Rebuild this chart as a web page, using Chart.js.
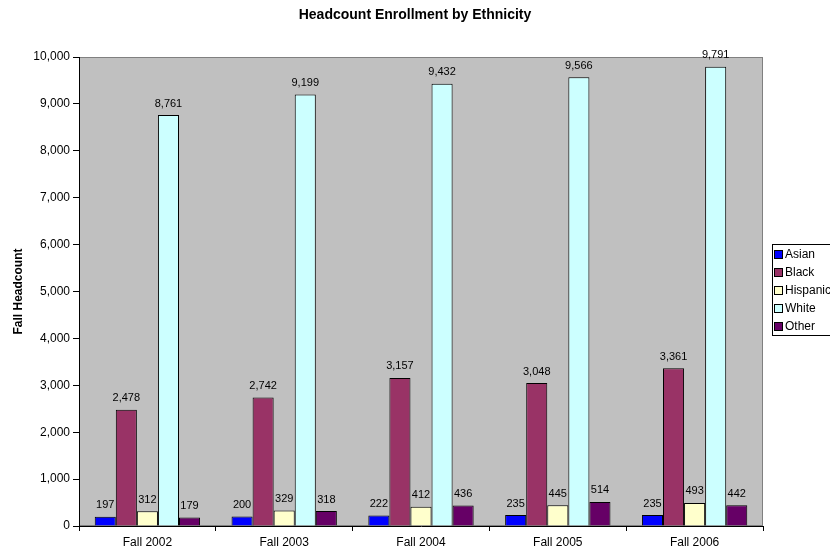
<!DOCTYPE html>
<html>
<head>
<meta charset="utf-8">
<script src="https://cdn.jsdelivr.net/npm/chart.js@4.4.1/dist/chart.umd.min.js"></script>
<style>
  html, body { margin: 0; padding: 0; background: #fff; }
  #wrap { width: 830px; height: 553px; position: relative; }
</style>
</head>
<body>
<div id="wrap"><canvas id="chart" width="830" height="553"></canvas></div>
<script>
const TITLE = 'Headcount Enrollment by Ethnicity';
const Y_TITLE = 'Fall Headcount';
const TERMS = ['Fall 2002', 'Fall 2003', 'Fall 2004', 'Fall 2005', 'Fall 2006'];

const ASIAN = [197, 200, 222, 235, 235];
const BLACK = [2478, 2742, 3157, 3048, 3361];
const HISPANIC = [312, 329, 412, 445, 493];
const WHITE = [8761, 9199, 9432, 9566, 9791];
const OTHER = [179, 318, 436, 514, 442];

const SERIES = [
  { label: 'Asian', data: ASIAN, color: '#0000ff' },
  { label: 'Black', data: BLACK, color: '#993366' },
  { label: 'Hispanic', data: HISPANIC, color: '#ffffcc' },
  { label: 'White', data: WHITE, color: '#ccffff' },
  { label: 'Other', data: OTHER, color: '#660066' },
];

const FONT = '"Liberation Sans", Arial, sans-serif';
const fmt = (v) => Number(v).toLocaleString('en-US');

// grey plot background + border, drawn before bars
const plotBg = {
  id: 'plotBg',
  beforeDraw(chart) {
    const { ctx, chartArea: a } = chart;
    ctx.save();
    ctx.fillStyle = '#c0c0c0';
    ctx.fillRect(a.left, a.top, a.right - a.left, a.bottom - a.top);
    ctx.strokeStyle = '#808080';
    ctx.lineWidth = 1;
    ctx.strokeRect(a.left + 0.5, a.top + 0.5, a.right - a.left - 1, a.bottom - a.top - 1);
    ctx.restore();
  },
};

// value labels above each bar, title, legend box
const extras = {
  id: 'extras',
  afterDraw(chart) {
    const { ctx } = chart;
    ctx.save();
    ctx.fillStyle = '#000';
    ctx.font = '11px ' + FONT;
    ctx.textAlign = 'center';
    ctx.textBaseline = 'bottom';
    chart.data.datasets.forEach((ds, i) => {
      chart.getDatasetMeta(i).data.forEach((bar, j) => {
        ctx.fillText(fmt(ds.data[j]), bar.x, bar.y - 6);
      });
    });

    ctx.font = 'bold 14px ' + FONT;
    ctx.textBaseline = 'middle';
    ctx.fillText(TITLE, 415, 15);

    // legend
    const lx = 772, ly = 244, lh = 91;
    ctx.fillStyle = '#fff';
    ctx.fillRect(lx, ly, 80, lh);
    ctx.strokeStyle = '#000';
    ctx.lineWidth = 1;
    ctx.strokeRect(lx + 0.5, ly + 0.5, 80, lh);
    ctx.font = '12px ' + FONT;
    ctx.textAlign = 'left';
    chart.data.datasets.forEach((ds, i) => {
      const y = 255 + i * 18;
      ctx.fillStyle = ds.backgroundColor;
      ctx.fillRect(lx + 2.5, y - 4.5, 8, 8);
      ctx.strokeRect(lx + 2.5, y - 4.5, 8, 8);
      ctx.fillStyle = '#000';
      ctx.fillText(ds.label, lx + 13, y);
    });
    ctx.restore();
  },
};

new Chart(document.getElementById('chart').getContext('2d'), {
  type: 'bar',
  data: {
    labels: TERMS,
    datasets: SERIES.map((s) => ({
      label: s.label,
      data: s.data,
      backgroundColor: s.color,
      borderColor: '#000',
      borderWidth: 1,
      categoryPercentage: 0.77,
      barPercentage: 1,
    })),
  },
  options: {
    responsive: false,
    animation: false,
    layout: { padding: { top: 57, right: 67, left: 0, bottom: 0 } },
    plugins: {
      legend: { display: false },
      tooltip: { enabled: false },
      title: { display: false },
    },
    scales: {
      x: {
        offset: true,
        grid: { offset: true, drawOnChartArea: false, drawTicks: true, tickLength: 5, color: '#000' },
        border: { display: true, color: '#000', width: 1 },
        ticks: { color: '#000', font: { family: FONT, size: 12 }, padding: 4 },
        afterFit(scale) { scale.height = 27; },
      },
      y: {
        min: 0,
        max: 10000,
        grid: { drawOnChartArea: false, drawTicks: true, tickLength: 6, color: '#000' },
        border: { display: true, color: '#000', width: 1 },
        ticks: {
          stepSize: 1000,
          color: '#000',
          font: { family: FONT, size: 12 },
          padding: 3,
          callback: (v) => fmt(v),
        },
        title: {
          display: true,
          text: Y_TITLE,
          color: '#000',
          font: { family: FONT, size: 12, weight: 'bold' },
          padding: { top: 11, bottom: 0 },
        },
        afterFit(scale) { scale.width = 79; },
      },
    },
  },
  plugins: [plotBg, extras],
});
</script>
</body>
</html>
